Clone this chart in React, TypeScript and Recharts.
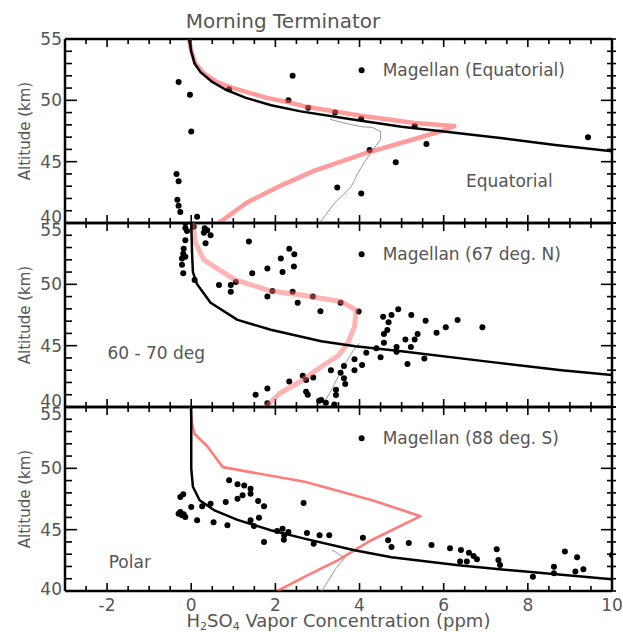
import React from 'react';
import { ScatterChart, Scatter, XAxis, YAxis, ReferenceDot, ReferenceLine } from 'recharts';

type Pt = [number, number];

// x: H2SO4 vapour concentration (ppm), y: altitude (km)
const xTicks = [-3, -2.5, -2, -1.5, -1, -0.5, 0, 0.5, 1, 1.5, 2, 2.5, 3, 3.5, 4, 4.5, 5, 5.5, 6, 6.5, 7, 7.5, 8, 8.5, 9, 9.5, 10];
const yTicks = [40, 41, 42, 43, 44, 45, 46, 47, 48, 49, 50, 51, 52, 53, 54, 55];
const xMajor = [-2, 0, 2, 4, 6, 8, 10];
const yMajor = [40, 45, 50, 55];

// Equatorial
const eqModel: Pt[] = [[-0.05, 55], [0, 54], [0.08, 53], [0.22, 52.3], [0.5, 51.5], [0.8, 50.9], [1.3, 50.2], [1.9, 49.6], [2.6, 49.1], [3.8, 48.45], [5.0, 47.85], [6.0, 47.45], [7.4, 46.9], [8.65, 46.36], [10, 45.85]];
const eqProfile: Pt[] = [[-0.05, 55], [0, 54], [0.1, 53], [0.3, 52.2], [0.6, 51.5], [0.94, 51.05], [1.8, 50.2], [2.31, 49.85], [2.77, 49.45], [4.04, 48.75], [5.31, 48.15], [6.25, 47.9], [5.95, 47.5], [5.31, 46.85], [4.2, 45.75], [2.93, 44.27], [2.13, 43.05], [1.34, 41.7], [0.65, 40]];
const eqThin: Pt[] = [[3.3, 48.45], [3.7, 48.1], [4.05, 47.85], [4.3, 47.8], [4.5, 47.45], [4.5, 46.8], [4.32, 45.95], [4.12, 45.0], [3.95, 44.0], [3.8, 42.95], [3.4, 41.6], [3.05, 40]];
const eqMagellan: Pt[] = [[-0.3, 51.5], [-0.03, 50.45], [0, 47.45], [-0.35, 44.0], [-0.3, 43.4], [-0.33, 41.9], [-0.3, 41.4], [-0.26, 40.9], [0.14, 40.5], [0.9, 50.9], [2.41, 52.0], [2.31, 50.0], [2.78, 49.4], [3.42, 49.0], [4.04, 48.5], [5.31, 47.9], [4.24, 45.95], [5.59, 46.45], [4.86, 44.95], [3.47, 42.9], [4.04, 42.4], [9.43, 47.0]];

// 60 - 70 deg
const midModel: Pt[] = [[0, 55], [0.02, 52.5], [0.04, 51], [0.14, 50], [0.46, 48.5], [1.1, 47.1], [1.89, 46.3], [3.09, 45.36], [3.9, 44.95], [5.0, 44.55], [7.0, 43.72], [8.8, 43.0], [10, 42.6]];
const midProfile: Pt[] = [[0.04, 55], [0.1, 53.4], [0.3, 52.0], [1.02, 50.4], [1.89, 49.45], [2.61, 49.13], [3.56, 48.6], [3.92, 47.9], [3.88, 46.55], [3.72, 45.2], [3.5, 44.2], [3.1, 43.3], [2.6, 42.1], [2.1, 41.1], [1.77, 40]];
const midThin: Pt[] = [[3.1, 40], [3.35, 41.5], [3.6, 43.2], [3.85, 44.6], [4.0, 45.2]];
const midMagellan: Pt[] = [
  [-0.14, 55.0], [0.06, 54.7], [0.32, 54.57], [-0.14, 54.6], [-0.1, 54.35], [-0.14, 53.6], [-0.18, 52.9], [-0.19, 52.5], [-0.14, 52.25], [-0.22, 52.1], [-0.22, 51.6], [-0.19, 50.9], [0.08, 50.35], [0.3, 54.2], [0.46, 54.0], [0.34, 53.35], [0.38, 54.4],
  [1.37, 53.5], [1.45, 50.9], [0.66, 49.95], [0.94, 49.95], [1.06, 50.2], [0.94, 49.4], [1.81, 51.3], [1.81, 49.0], [1.93, 49.46], [2.13, 52.1], [2.17, 51.0], [2.33, 52.9], [2.45, 52.45], [2.44, 51.45], [2.41, 49.4], [2.53, 48.5], [2.89, 49.0], [3.07, 47.8],
  [1.53, 41.0], [1.81, 41.5], [1.81, 40.3], [2.33, 42.07], [2.65, 42.55], [2.73, 42.2], [2.73, 41.25], [2.77, 41.0], [2.9, 42.4], [3.04, 40.5],
  [3.55, 48.5], [3.98, 47.78], [4.56, 47.36], [4.76, 47.5], [4.92, 47.97], [4.69, 46.9], [4.66, 46.28], [4.58, 45.95], [4.58, 45.24], [5.23, 47.5], [5.57, 47.04], [5.83, 46.06], [6.05, 46.5], [6.33, 47.1], [6.92, 46.5], [5.38, 45.95], [5.31, 45.5], [5.09, 45.5], [5.22, 44.9], [4.88, 44.9], [4.88, 44.5], [4.4, 44.78], [4.16, 44.43], [4.5, 44.05], [5.14, 43.5], [5.54, 43.96], [3.88, 43.9], [4.06, 43.43], [3.63, 43.35], [3.32, 43.0], [3.88, 43.0], [3.55, 42.8], [3.63, 42.34], [3.66, 41.88], [3.44, 41.4], [3.44, 40.98], [3.09, 40.57], [3.2, 40.35], [3.4, 40.2],
];

// Polar
const polModel: Pt[] = [[0, 55], [0, 50], [0.04, 48.5], [0.2, 47.4], [0.54, 46.6], [1.1, 45.8], [1.89, 44.95], [2.69, 44.27], [3.88, 43.32], [4.76, 42.75], [6.35, 42.1], [7.94, 41.58], [10, 40.96]];
const polProfile: Pt[] = [[-0.02, 55], [0.02, 53.6], [0.08, 52.8], [0.38, 51.8], [0.75, 50.1], [2.7, 48.9], [4.3, 47.4], [5.45, 46.1], [4.28, 44.14], [3.48, 42.5], [2.69, 41.15], [2.05, 40]];
const polThin: Pt[] = [[3.35, 43.35], [3.65, 42.7], [3.45, 41.9], [3.25, 40.8], [3.1, 40]];
const polMagellan: Pt[] = [
  [-0.26, 47.66], [-0.19, 47.88], [-0.26, 46.44], [-0.18, 46.25], [-0.14, 46.03], [-0.22, 46.17], [-0.3, 46.3], [0, 46.85], [0.14, 45.76], [0.26, 46.9], [0.46, 47.12], [0.53, 45.6], [0.82, 47.26], [0.86, 45.35],
  [0.9, 49.02], [1.1, 48.7], [1.26, 48.6], [1.41, 48.34], [1.41, 47.93], [1.22, 47.8], [1.1, 47.53], [1.59, 47.34], [1.73, 46.9], [1.41, 45.76], [1.61, 45.98], [1.49, 45.3], [1.73, 44.0],
  [2.04, 44.9], [2.17, 45.08], [2.21, 44.54], [2.31, 44.8], [2.2, 44.18], [2.67, 47.17], [2.75, 44.73], [2.91, 43.86], [3.05, 44.54], [3.28, 44.54], [4.08, 44.35], [4.68, 44.13], [4.76, 43.59], [5.17, 43.91],
  [5.71, 43.75], [6.15, 43.48], [6.41, 43.34], [6.6, 43.12], [6.71, 42.85], [6.79, 42.58], [6.39, 42.4], [6.55, 42.4], [7.26, 43.4], [7.3, 42.53], [7.34, 42.12], [8.12, 41.17], [8.62, 41.98], [8.62, 41.44], [8.88, 43.21], [9.17, 42.75], [9.13, 41.58], [9.32, 41.77], [10.0, 42.93],
];

const legendAt: Pt = [4.05, 52.45];
const legendNames = ['Magellan (Equatorial)', 'Magellan (67 deg. N)', 'Magellan (88 deg. S)'];
const regionNames = ['Equatorial', '60 - 70 deg', 'Polar'];
const regionAt: Pt[] = [[7.56, 43.4], [-0.83, 44.4], [-1.46, 42.37]];

const FONT = '"DejaVu Sans", sans-serif';
const TEXT = '#555';
const PLOT_H = 184;
// x tick lengths along the altitude axis, in km (about 5 and 8 px)
const MINOR_LEN = 0.41;
const MAJOR_LEN = 0.65;

// top = where the chart svg starts; plot areas sit at 39, 223 and 407
const panels = [
  { model: eqModel, profile: eqProfile, thin: eqThin, dots: eqMagellan, top: 0, marginTop: 38, bottomH: 1, edgeTop: 0, edgeBottom: -6, red: { stroke: '#ff5a5a', strokeOpacity: 0.6, strokeWidth: 4.5 } },
  { model: midModel, profile: midProfile, thin: midThin, dots: midMagellan, top: 222, marginTop: 0, bottomH: 1, edgeTop: 7, edgeBottom: -6, red: { stroke: '#ff6a6a', strokeOpacity: 0.5, strokeWidth: 5 } },
  { model: polModel, profile: polProfile, thin: polThin, dots: polMagellan, top: 406, marginTop: 0, bottomH: 41, edgeTop: 7, edgeBottom: -2, red: { stroke: '#ff5050', strokeOpacity: 0.75, strokeWidth: 2.6 } },
];

const toXY = (pts: Pt[]) => pts.map(([x, y]) => ({ x, y }));
const noShape = () => <g />;
const dotShape = (p: any) => <circle cx={p.cx} cy={p.cy} r={3} fill="#000" />;

const tickStroke = { stroke: '#000', strokeWidth: 1.6 };

const leftTick = (edgeTop: number, edgeBottom: number) => (p: any) => {
  const v = p.payload.value;
  const major = yMajor.includes(v);
  const shift = v === 55 ? edgeTop : v === 40 ? edgeBottom : 0;
  return (
    <g>
      <line x1={p.x} x2={p.x + (major ? 12 : 7)} y1={p.y} y2={p.y} {...tickStroke} />
      {major && (
        <text x={p.x - 3} y={p.y + shift} dy="0.36em" textAnchor="end" fill={TEXT} fontSize={17} fontFamily={FONT}>{v}</text>
      )}
    </g>
  );
};

const rightTick = (p: any) => {
  const major = yMajor.includes(p.payload.value);
  return <line x1={p.x - (major ? 11 : 5)} x2={p.x + 4} y1={p.y} y2={p.y} {...tickStroke} />;
};

const axisLine = { stroke: '#000', strokeWidth: 2.5 };
const altitudeCenters = [131, 315, 499];

export default function App() {
  return (
    <div style={{ position: 'absolute', left: 0, top: 0, width: 623, height: 632, background: '#fff', fontFamily: FONT, overflow: 'hidden' }}>
      <style>{'.recharts-surface{overflow:visible}'}</style>
      <div style={{ position: 'absolute', left: 0, top: 11, width: 566, textAlign: 'center', fontSize: 20, lineHeight: '20px', color: TEXT }}>
        Morning Terminator
      </div>
      {panels.map((pn, i) => (
        <div key={i} style={{ position: 'absolute', left: 0, top: pn.top }}>
          <ScatterChart width={623} height={pn.marginTop + 1 + PLOT_H + pn.bottomH} margin={{ top: pn.marginTop, right: 0, bottom: 0, left: 0 }}>
            <XAxis dataKey="x" type="number" domain={[-3, 10]} allowDataOverflow hide height={0} />
            <YAxis dataKey="y" type="number" domain={[40, 55]} allowDataOverflow hide width={0} />
            <XAxis xAxisId="b" orientation="bottom" type="number" domain={[-3, 10]} allowDataOverflow height={pn.bottomH} tick={false} tickLine={false} axisLine={axisLine} />
            <XAxis xAxisId="t" orientation="top" type="number" domain={[-3, 10]} allowDataOverflow height={1} tick={false} tickLine={false} axisLine={axisLine} />
            <YAxis yAxisId="l" orientation="left" type="number" domain={[40, 55]} allowDataOverflow ticks={yTicks} interval={0} width={65} tickSize={0} tickMargin={0} tickLine={false} axisLine={axisLine} tick={leftTick(pn.edgeTop, pn.edgeBottom)} />
            <YAxis yAxisId="r" orientation="right" type="number" domain={[40, 55]} allowDataOverflow ticks={yTicks} interval={0} width={11} tickSize={0} tickMargin={0} tickLine={false} axisLine={axisLine} tick={rightTick} />
            {xTicks.map((v) => {
              const len = xMajor.includes(v) ? MAJOR_LEN : MINOR_LEN;
              return [
                <ReferenceLine key={`b${v}`} segment={[{ x: v, y: 40 }, { x: v, y: 40 + len }]} {...tickStroke} />,
                <ReferenceLine key={`t${v}`} segment={[{ x: v, y: 55 }, { x: v, y: 55 - len }]} {...tickStroke} />,
              ];
            })}
            <Scatter data={toXY(pn.thin)} fill="none" shape={noShape} line={{ stroke: '#9a9a9a', strokeWidth: 1 }} isAnimationActive={false} />
            <Scatter data={toXY(pn.dots)} fill="#000" shape={dotShape} isAnimationActive={false} />
            <Scatter data={toXY(pn.profile)} fill="none" shape={noShape} line={{ ...pn.red, strokeLinejoin: 'round' }} isAnimationActive={false} />
            <Scatter data={toXY(pn.model)} fill="none" shape={noShape} line={{ stroke: '#000', strokeWidth: 2.5, strokeLinejoin: 'round' }} isAnimationActive={false} />
            <ReferenceDot x={legendAt[0]} y={legendAt[1]} r={3} fill="#000" stroke="none" label={{ value: legendNames[i], position: 'right', offset: 18, fill: TEXT, fontSize: 17, fontFamily: FONT }} />
            <ReferenceDot x={regionAt[i][0]} y={regionAt[i][1]} r={0} fill="none" stroke="none" label={{ value: regionNames[i], position: 'center', fill: TEXT, fontSize: 17, fontFamily: FONT }} />
            {i === 2 && xMajor.map((v) => (
              <ReferenceDot key={`lab${v}`} x={v} y={40} r={0} fill="none" stroke="none" label={{ value: String(v), position: 'bottom', offset: 8, fill: TEXT, fontSize: 17, fontFamily: FONT }} />
            ))}
          </ScatterChart>
        </div>
      ))}
      <svg width={623} height={632} style={{ position: 'absolute', left: 0, top: 0, pointerEvents: 'none' }}>
        {altitudeCenters.map((cy) => (
          <text key={cy} x={25} y={cy} transform={`rotate(-90 25 ${cy})`} textAnchor="middle" dominantBaseline="central" fill={TEXT} fontSize={15} fontFamily={FONT}>
            Altitude (km)
          </text>
        ))}
        <text x={338.5} y={627} textAnchor="middle" fill={TEXT} fontSize={18} fontFamily={FONT}>
          H<tspan fontSize={11} dy={3}>2</tspan>
          <tspan dy={-3}>SO</tspan>
          <tspan fontSize={11} dy={3}>4</tspan>
          <tspan dy={-3}> Vapor Concentration (ppm)</tspan>
        </text>
      </svg>
    </div>
  );
}
